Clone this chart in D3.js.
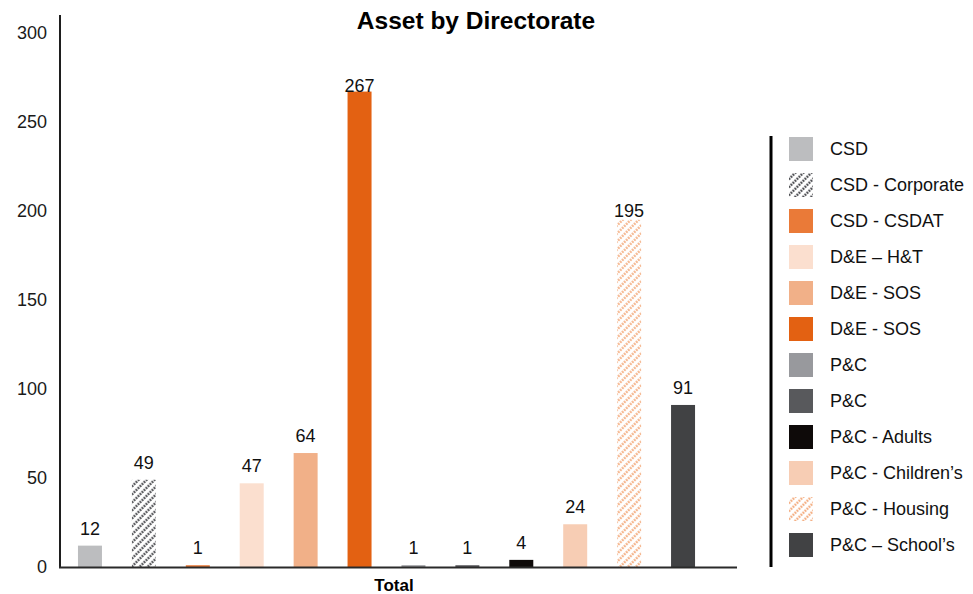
<!DOCTYPE html>
<html>
<head>
<meta charset="utf-8">
<script src="https://cdn.jsdelivr.net/npm/d3@7"></script>
<style>
  html, body { margin: 0; padding: 0; background: #fff; }
  svg { display: block; font-family: "Liberation Sans", Arial, Helvetica, sans-serif; }
</style>
</head>
<body>
<svg id="chart" width="973" height="594"></svg>
<script>
// Directorates, one bar each, all under the single "Total" group
const categories = [
  "CSD", "CSD - Corporate", "CSD - CSDAT", "D&E \u2013 H&T", "D&E - SOS", "D&E - SOS",
  "P&C", "P&C", "P&C - Adults", "P&C - Children\u2019s", "P&C - Housing", "P&C \u2013 School\u2019s"
];
const assetCounts = [12, 49, 1, 47, 64, 267, 1, 1, 4, 24, 195, 91];
const groupLabels = ["Total"];
const yTicks = [0, 50, 100, 150, 200, 250, 300];

// Fill for each directorate; "hatch-*" entries are drawn with a diagonal pattern
const fills = [
  "#bcbdbf", "hatch-dark", "#ea7a38", "#fbdfcf", "#f1b088", "#e36112",
  "#98999d", "#58595c", "#0e0a09", "#f7cdb4", "hatch-orange", "#414244"
];
const hatchColours = { "hatch-dark": "#505155", "hatch-orange": "#f4b085" };
// Gap between bar top and its value label (a few labels sit tighter)
const labelGap = i => (i === 5 ? 0 : i === 10 ? 3 : 11);

const svg = d3.select("#chart");
const font = "'Liberation Sans', Arial, Helvetica, sans-serif";

// Diagonal dotted hatch patterns
const defs = svg.append("defs");
Object.entries(hatchColours).forEach(([id, colour]) => {
  const s = 5.66;
  const p = defs.append("pattern")
    .attr("id", id)
    .attr("patternUnits", "userSpaceOnUse")
    .attr("width", s).attr("height", s)
    .attr("patternTransform", "rotate(45)");
  p.append("rect").attr("width", s).attr("height", s).attr("fill", "#fff");
  p.append("line")
    .attr("x1", 1.5).attr("y1", 0).attr("x2", 1.5).attr("y2", s)
    .attr("stroke", colour).attr("stroke-width", 2.3)
    .attr("stroke-dasharray", "2,0.83");
});
const fillOf = i => (fills[i].startsWith("hatch") ? `url(#${fills[i]})` : fills[i]);

// Scales
const y = d3.scaleLinear().domain([0, 310]).range([567, 15]);
const x = d3.scaleBand()
  .domain(d3.range(categories.length))
  .range([63, 710])
  .paddingInner(0.555)
  .paddingOuter(0.2775);
const xGroup = d3.scaleBand().domain(groupLabels).range([60, 728]);

// Title
svg.append("text")
  .attr("x", 476).attr("y", 29)
  .attr("text-anchor", "middle")
  .attr("font-size", 24.5).attr("font-weight", "bold")
  .attr("fill", "#000")
  .text("Asset by Directorate");

// Y axis (labels only, axis line drawn below)
const yAxis = svg.append("g")
  .attr("transform", "translate(60,0)")
  .call(d3.axisLeft(y).tickValues(yTicks).tickSize(0).tickPadding(13));
yAxis.select(".domain").remove();
yAxis.selectAll("text").attr("font-size", 18).attr("font-family", font).attr("fill", "#1a1a1a");

// Bars
svg.append("g").selectAll("rect")
  .data(assetCounts)
  .join("rect")
  .attr("x", (d, i) => x(i))
  .attr("width", x.bandwidth())
  .attr("y", d => y(d))
  .attr("height", d => y(0) - y(d))
  .attr("fill", (d, i) => fillOf(i));

// Value labels
svg.append("g").selectAll("text")
  .data(assetCounts)
  .join("text")
  .attr("x", (d, i) => x(i) + x.bandwidth() / 2)
  .attr("y", (d, i) => y(d) - labelGap(i))
  .attr("text-anchor", "middle")
  .attr("font-size", 18)
  .attr("fill", "#111")
  .text(d => d);

// Axis lines
svg.append("line")
  .attr("x1", 60).attr("x2", 60).attr("y1", y(310)).attr("y2", y(0) + 1)
  .attr("stroke", "#1e1e1e").attr("stroke-width", 2);
svg.append("line")
  .attr("x1", 59).attr("x2", 737).attr("y1", y(0) + 0.5).attr("y2", y(0) + 0.5)
  .attr("stroke", "#2a2a2a").attr("stroke-width", 2);

// X axis group label
const xAxis = svg.append("g")
  .attr("transform", `translate(0,${y(0)})`)
  .call(d3.axisBottom(xGroup).tickSize(0).tickPadding(12));
xAxis.select(".domain").remove();
xAxis.selectAll("text")
  .attr("font-size", 17).attr("font-weight", "bold")
  .attr("font-family", font).attr("fill", "#000");

// Legend
const legend = svg.append("g");
legend.append("line")
  .attr("x1", 771).attr("x2", 771).attr("y1", 136).attr("y2", 567)
  .attr("stroke", "#000").attr("stroke-width", 3);
const items = legend.selectAll("g.item")
  .data(categories)
  .join("g")
  .attr("class", "item")
  .attr("transform", (d, i) => `translate(789,${149 + i * 36})`);
items.append("rect")
  .attr("x", 0).attr("y", -12)
  .attr("width", 24).attr("height", 24)
  .attr("fill", (d, i) => fillOf(i));
items.append("text")
  .attr("x", 41).attr("y", 0).attr("dy", "0.35em")
  .attr("font-size", 18).attr("fill", "#111")
  .text(d => d);
</script>
</body>
</html>
